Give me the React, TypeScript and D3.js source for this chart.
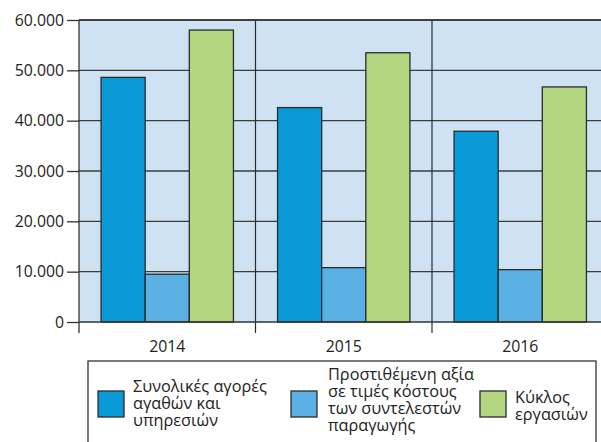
import React, { useEffect, useRef } from 'react';
import * as d3 from 'd3';

const years = ['2014', '2015', '2016'];
const seriesNames = [
  ['Συνολικές αγορές', 'αγαθών και', 'υπηρεσιών'],
  ['Προστιθέμενη αξία', 'σε τιμές κόστους', 'των συντελεστών', 'παραγωγής'],
  ['Κύκλος', 'εργασιών'],
];
const purchases = [48600, 42600, 37900];
const valueAdded = [9500, 10800, 10400];
const turnover = [58000, 53500, 46700];
const yTicks = [0, 10000, 20000, 30000, 40000, 50000, 60000];

const colors = ['#0a9ad8', '#5aafe3', '#b5d680'];

const App = () => {
  const svgRef = useRef<SVGSVGElement>(null);

  useEffect(() => {
    const svg = d3.select(svgRef.current);
    svg.selectAll('*').remove();
    const font = '"Open Sans", "Noto Sans", sans-serif';

    const left = 79, top = 20, bottom = 322, right = 608.5;
    const values = [purchases, valueAdded, turnover];

    const y = d3.scaleLinear().domain([0, 60000]).range([bottom, top]);
    const x = d3.scaleBand().domain(years).range([left, right]).padding(0);
    const xInner = d3.scaleBand<number>().domain([0, 1, 2])
      .range([0, x.bandwidth()]).paddingInner(0).paddingOuter(0.5);

    // plot background
    svg.append('rect')
      .attr('x', left).attr('y', top)
      .attr('width', right - left).attr('height', bottom - top)
      .attr('fill', '#cfe2f3');

    // horizontal gridlines
    svg.append('g').selectAll('line')
      .data(yTicks.filter(d => d > 0))
      .join('line')
      .attr('x1', left).attr('x2', right)
      .attr('y1', d => y(d)).attr('y2', d => y(d))
      .attr('stroke', '#3c3c3c').attr('stroke-width', 1.4);

    // category dividers
    svg.append('g').selectAll('line')
      .data(years.slice(1))
      .join('line')
      .attr('x1', d => x(d)!).attr('x2', d => x(d)!)
      .attr('y1', top).attr('y2', bottom + 11)
      .attr('stroke', '#2a2a2a').attr('stroke-width', 1.2);

    // bars
    const groups = svg.append('g').selectAll('g')
      .data(years)
      .join('g')
      .attr('transform', d => `translate(${x(d)},0)`);
    groups.selectAll('rect')
      .data((d, i) => values.map((s, k) => ({ k, v: s[i] })))
      .join('rect')
      .attr('x', d => xInner(d.k)!)
      .attr('width', xInner.bandwidth())
      .attr('y', d => y(d.v))
      .attr('height', d => bottom - y(d.v))
      .attr('fill', d => colors[d.k])
      .attr('stroke', '#2b2b2b').attr('stroke-width', 1.3);

    // y axis
    const yAxis = d3.axisLeft(y).tickValues(yTicks).tickSize(12).tickPadding(3)
      .tickFormat(d => d3.format(',')(d as number).replace(/,/g, '.'));
    const yg = svg.append('g').attr('transform', `translate(${left},0)`).call(yAxis);
    yg.select('.domain').remove();
    yg.selectAll('.tick line').attr('stroke', '#333').attr('stroke-width', 1.3);
    yg.selectAll('.tick text').attr('font-family', font).attr('font-size', 15.8).attr('fill', '#222');
    svg.append('line')
      .attr('x1', left).attr('x2', left).attr('y1', top).attr('y2', bottom + 11)
      .attr('stroke', '#333').attr('stroke-width', 1.3);

    // x axis baseline and top border
    svg.append('line')
      .attr('x1', left).attr('x2', right).attr('y1', bottom).attr('y2', bottom)
      .attr('stroke', '#333').attr('stroke-width', 1.3);
    svg.append('line')
      .attr('x1', left).attr('x2', right).attr('y1', top).attr('y2', top)
      .attr('stroke', '#333').attr('stroke-width', 1.3);

    svg.append('g').selectAll('text')
      .data(years)
      .join('text')
      .attr('x', d => x(d)! + x.bandwidth() / 2)
      .attr('y', 352)
      .attr('text-anchor', 'middle')
      .attr('font-family', font).attr('font-size', 15.8).attr('fill', '#222')
      .text(d => d);

    // legend
    svg.append('rect')
      .attr('x', 88).attr('y', 361).attr('width', 508).attr('height', 100)
      .attr('fill', 'white').attr('stroke', '#333').attr('stroke-width', 1.3);
    const legendPos = [
      { sx: 98, tx: 133, ty: 387 },
      { sx: 291, tx: 328, ty: 375 },
      { sx: 480, tx: 515, ty: 398 },
    ];
    seriesNames.forEach((lines, k) => {
      const p = legendPos[k];
      svg.append('rect')
        .attr('x', p.sx).attr('y', 391).attr('width', 26).attr('height', 26)
        .attr('fill', colors[k]).attr('stroke', '#2b2b2b').attr('stroke-width', 1.3);
      const t = svg.append('text')
        .attr('font-family', font).attr('font-size', 16.3).attr('fill', '#222');
      lines.forEach((l, j) => {
        t.append('tspan').attr('x', p.tx).attr('y', p.ty + 5 + j * 17).text(l);
      });
    });
  }, []);

  return (
    <div style={{ position: 'absolute', left: 0, top: 0 }}>
      <svg ref={svgRef} width={601} height={442} style={{ display: 'block', background: 'white' }} />
    </div>
  );
};

export default App;
